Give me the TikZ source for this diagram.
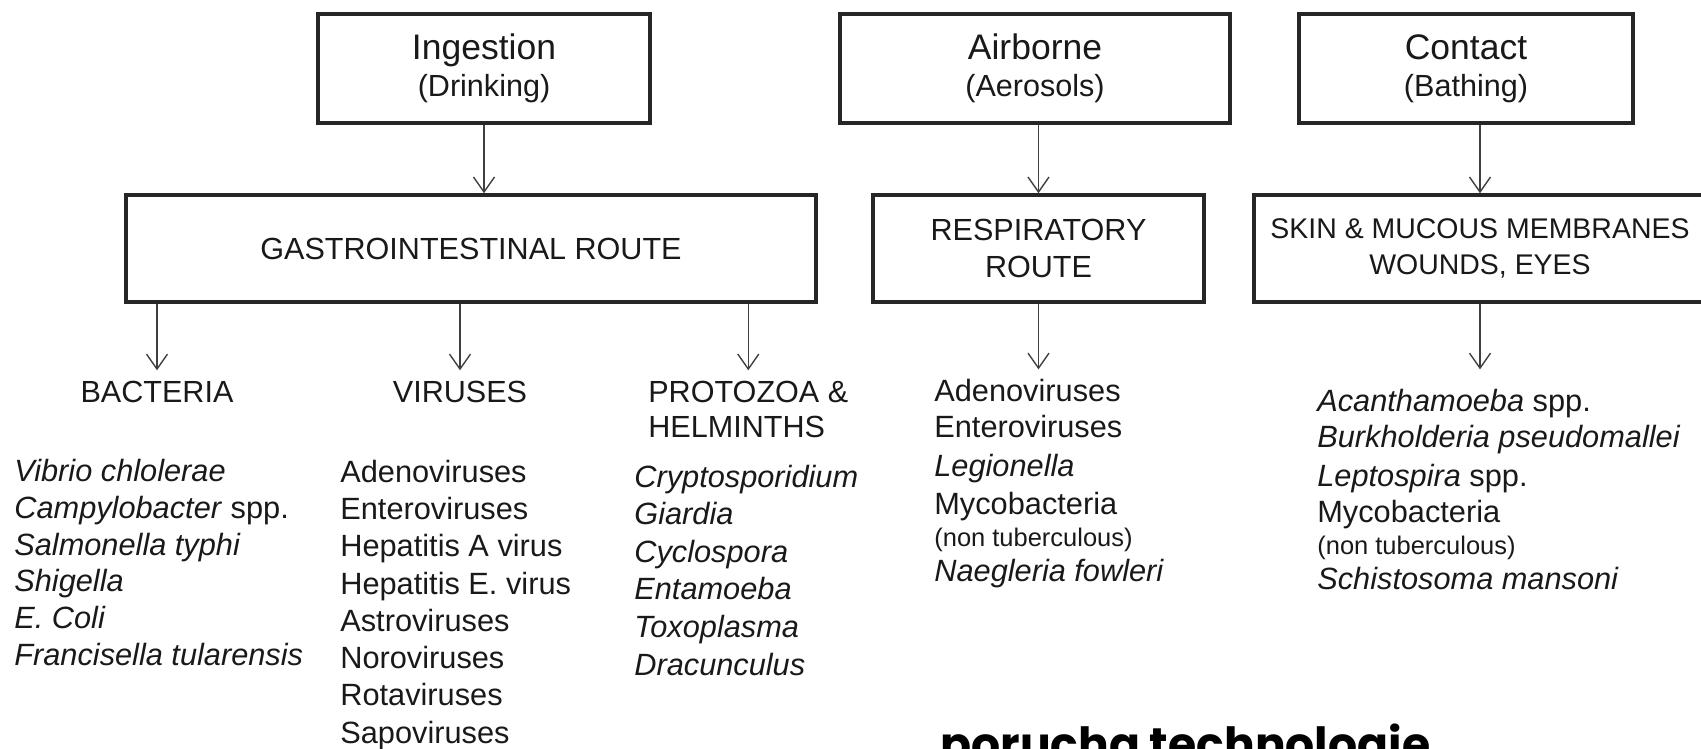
\documentclass[tikz,border=0pt]{standalone}
\usepackage{fontspec}
\setmainfont{Liberation Sans}
\newfontfamily\gothic{Poppins}
\usetikzlibrary{arrows.meta,positioning}
\tikzset{
  >={Straight Barb[length=0.3cm,width=0.42cm]},
  source/.style  = { draw=black!85, line width=2pt, rectangle, align=center,
                     minimum height=2.18cm, text=black!90,
                     font=\fontsize{17.4}{21}\selectfont },
  route/.style   = { draw=black!85, line width=2pt, rectangle, align=center,
                     minimum height=2.14cm, text=black!90,
                     font=\fontsize{17.4}{21}\selectfont },
  connect/.style = { ->, line width=0.8pt, black!75 },
  group/.style   = { anchor=base, inner xsep=0pt, inner ysep=0.22cm, text=black!90,
                     font=\fontsize{17.4}{20}\selectfont },
  agent/.style   = { anchor=base west, inner sep=0pt, text=black!90,
                     font=\fontsize{17.5}{20}\selectfont },
  aside/.style   = { anchor=base west, inner sep=0pt, text=black!90,
                     font=\fontsize{14.5}{17}\selectfont },
}

\begin{document}
\begin{tikzpicture}[x=0.02cm, y=-0.02cm]
  \useasboundingbox (0,0) rectangle (1701,749);
  \clip (0,0) rectangle (1701,749);

  % Draw the sources
  \node[source, minimum width=6.64cm] (ingestion) at (484,68.5)
    {{\fontsize{20.2}{24}\selectfont Ingestion}\\(Drinking)};
  \node[source, minimum width=7.8cm]  (airborne)  at (1035,68.5)
    {{\fontsize{20.2}{24}\selectfont Airborne}\\(Aerosols)};
  \node[source, minimum width=6.68cm] (contact)   at (1466,68.5)
    {{\fontsize{20.2}{24}\selectfont Contact}\\(Bathing)};

  % Draw the routes
  \node[route, minimum width=13.8cm] (gi)   at (471,248.5)  {GASTROINTESTINAL ROUTE};
  \node[route, minimum width=6.62cm] (resp) at (1038.5,248.5) {RESPIRATORY\\ROUTE};
  \node[route, minimum width=9.04cm, font=\fontsize{16.2}{20.5}\selectfont] (skin) at (1480,248.5)
    {SKIN \& MUCOUS MEMBRANES\\WOUNDS, EYES};

  \draw[connect] (ingestion.south) -- (ingestion.south |- gi.north);
  \draw[connect] (airborne.south -| resp.north) -- (resp.north);
  \draw[connect] (contact.south -| skin.north) -- (skin.north);

  % Draw the groups
  \node[group] (bacteria) at (157,403) {BACTERIA};
  \node[group] (viruses)  at (460,403) {VIRUSES};
  \node[group, anchor=base west] (protozoa)  at (648,403) {PROTOZOA \&};
  \node[group, anchor=base west] (helminths) at (648,438) {HELMINTHS};

  \draw[connect] (gi.south -| bacteria.north) -- (bacteria.north);
  \draw[connect] (gi.south -| viruses.north) -- (viruses.north);
  \draw[connect] (gi.south -| protozoa.north) -- (protozoa.north);

  % Draw the agents
  \foreach \t/\y [count=\i] in {\textit{Vibrio chlolerae}/482, \textit{Campylobacter} spp./518.6,
      \textit{Salmonella typhi}/555.2, \textit{Shigella}/591.8, \textit{E. Coli}/628.4,
      \textit{Francisella tularensis}/665}
    \node[agent] (bact-\i) at (14,\y) {\t};

  \foreach \t/\y [count=\i] in {Adenoviruses/483, Enteroviruses/520, Hepatitis A virus/557,
      Hepatitis E. virus/594.4, Astroviruses/631.6, Noroviruses/668.7, Rotaviruses/705.9,
      Sapoviruses/743}
    \node[agent] (vir-\i) at (340,\y) {\t};

  \foreach \t/\y [count=\i] in {Cryptosporidium/488, Giardia/525, Cyclospora/563,
      Entamoeba/600, Toxoplasma/638, Dracunculus/675}
    \node[agent, font=\fontsize{17.5}{20}\selectfont\itshape] (proto-\i) at (634,\y) {\t};

  \node[agent] (resp-1) at (934,402) {Adenoviruses};
  \node[agent] (resp-2) at (934,438) {Enteroviruses};
  \node[agent] (resp-3) at (934,477) {\textit{Legionella}};
  \node[agent] (resp-4) at (934,515) {Mycobacteria};
  \node[aside] (resp-5) at (934,547) {(non tuberculous)};
  \node[agent] (resp-6) at (934,582) {\textit{Naegleria fowleri}};

  \node[agent] (skin-1) at (1317,412) {\textit{Acanthamoeba} spp.};
  \node[agent] (skin-2) at (1317,448) {\textit{Burkholderia pseudomallei}};
  \node[agent] (skin-3) at (1317,487) {\textit{Leptospira} spp.};
  \node[agent] (skin-4) at (1317,523) {Mycobacteria};
  \node[aside] (skin-5) at (1317,555) {(non tuberculous)};
  \node[agent] (skin-6) at (1317,590) {\textit{Schistosoma mansoni}};

  \draw[connect, shorten >=0.2cm] (resp.south) -- (resp.south |- resp-1.north);
  \draw[connect, shorten >=0.4cm] (skin.south) -- (skin.south |- skin-1.north);

  % Draw the footer
  \node[anchor=base west, inner sep=0pt, font=\gothic\bfseries\fontsize{26}{30}\selectfont]
    (footer) at (940,760) {porucha technologie};
\end{tikzpicture}
\end{document}
